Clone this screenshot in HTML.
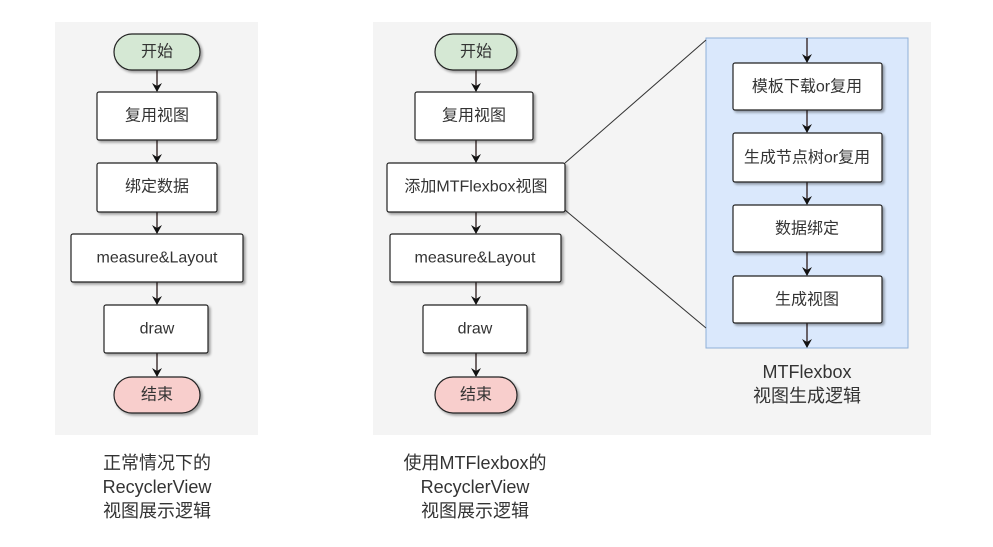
<!DOCTYPE html>
<html><head><meta charset="utf-8"><style>
body{margin:0;background:#fff;}
svg text{font-family:"Liberation Sans","Noto Sans CJK SC",sans-serif;fill:#333;}
</style></head><body>
<svg width="993" height="542" viewBox="0 0 993 542" xmlns="http://www.w3.org/2000/svg">
<defs>
<marker id="a" markerWidth="10" markerHeight="10" refX="8" refY="5" orient="auto" markerUnits="userSpaceOnUse"><path d="M0,0 L9,5 L0,10 L3,5 Z" fill="#111"/></marker>
<filter id="s" x="-10%" y="-10%" width="130%" height="140%"><feDropShadow dx="2" dy="2" stdDeviation="1.2" flood-color="#000" flood-opacity="0.35"/></filter>
</defs>
<rect x="55" y="22" width="203" height="413" fill="#f4f4f4"/>
<rect x="373" y="22" width="558" height="413" fill="#f4f4f4"/>
<g stroke="#2a1a1a" stroke-width="1.3" fill="none" marker-end="url(#a)">
<line x1="157" y1="70" x2="157" y2="91"/><line x1="157" y1="140" x2="157" y2="162"/>
<line x1="157" y1="212" x2="157" y2="233"/><line x1="157" y1="282" x2="157" y2="304"/>
<line x1="157" y1="353" x2="157" y2="376"/>
<line x1="476" y1="70" x2="476" y2="91"/><line x1="476" y1="140" x2="476" y2="162"/>
<line x1="476" y1="212" x2="476" y2="233"/><line x1="476" y1="282" x2="476" y2="304"/>
<line x1="476" y1="353" x2="476" y2="376"/>
</g>
<rect x="706" y="38" width="202" height="310" fill="#dae8fc" stroke="#8fb0d8" stroke-width="1"/>
<g stroke="#2a1a1a" stroke-width="1.3" fill="none" marker-end="url(#a)">
<line x1="807" y1="38" x2="807" y2="62"/><line x1="807" y1="110" x2="807" y2="132"/>
<line x1="807" y1="182" x2="807" y2="204"/><line x1="807" y1="252" x2="807" y2="275"/>
<line x1="807" y1="323" x2="807" y2="347"/>
</g>
<line x1="565" y1="163" x2="706" y2="40" stroke="#333" stroke-width="1"/>
<line x1="565" y1="210" x2="706" y2="328" stroke="#333" stroke-width="1"/>
<g filter="url(#s)" stroke="#222" stroke-width="1.2">
<rect x="114" y="34" width="86" height="36" rx="18" fill="#d5e8d4"/>
<rect x="97" y="92" width="120" height="48" rx="2" fill="#fff"/>
<rect x="97" y="163" width="120" height="49" rx="2" fill="#fff"/>
<rect x="71" y="234" width="172" height="48" rx="2" fill="#fff"/>
<rect x="104" y="305" width="104" height="48" rx="2" fill="#fff"/>
<rect x="114" y="377" width="86" height="36" rx="18" fill="#f8cecc"/>
<rect x="435" y="34" width="82" height="36" rx="18" fill="#d5e8d4"/>
<rect x="415" y="92" width="118" height="48" rx="2" fill="#fff"/>
<rect x="387" y="163" width="178" height="49" rx="2" fill="#fff"/>
<rect x="390" y="234" width="171" height="48" rx="2" fill="#fff"/>
<rect x="423" y="305" width="104" height="48" rx="2" fill="#fff"/>
<rect x="435" y="377" width="82" height="36" rx="18" fill="#f8cecc"/>
<rect x="733" y="63" width="149" height="47" rx="2" fill="#fff"/>
<rect x="733" y="133" width="149" height="49" rx="2" fill="#fff"/>
<rect x="733" y="205" width="149" height="47" rx="2" fill="#fff"/>
<rect x="733" y="276" width="149" height="47" rx="2" fill="#fff"/>
</g>
<g font-size="16" text-anchor="middle" dominant-baseline="central">
<text x="157" y="52">开始</text><text x="157" y="116">复用视图</text><text x="157" y="187">绑定数据</text>
<text x="157" y="258">measure&amp;Layout</text><text x="157" y="329">draw</text><text x="157" y="395">结束</text>
<text x="476" y="52">开始</text><text x="474" y="116">复用视图</text><text x="476" y="187">添加MTFlexbox视图</text>
<text x="475" y="258">measure&amp;Layout</text><text x="475" y="329">draw</text><text x="476" y="395">结束</text>
<text x="807" y="87">模板下载or复用</text><text x="807" y="158">生成节点树or复用</text>
<text x="807" y="229">数据绑定</text><text x="807" y="300">生成视图</text>
</g>
<g font-size="18" text-anchor="middle" dominant-baseline="central">
<text x="807" y="372">MTFlexbox</text><text x="807" y="396">视图生成逻辑</text>
<text x="157" y="463">正常情况下的</text><text x="157" y="487">RecyclerView</text><text x="157" y="511">视图展示逻辑</text>
<text x="475" y="463">使用MTFlexbox的</text><text x="475" y="487">RecyclerView</text><text x="475" y="511">视图展示逻辑</text>
</g>
</svg>
</body></html>
